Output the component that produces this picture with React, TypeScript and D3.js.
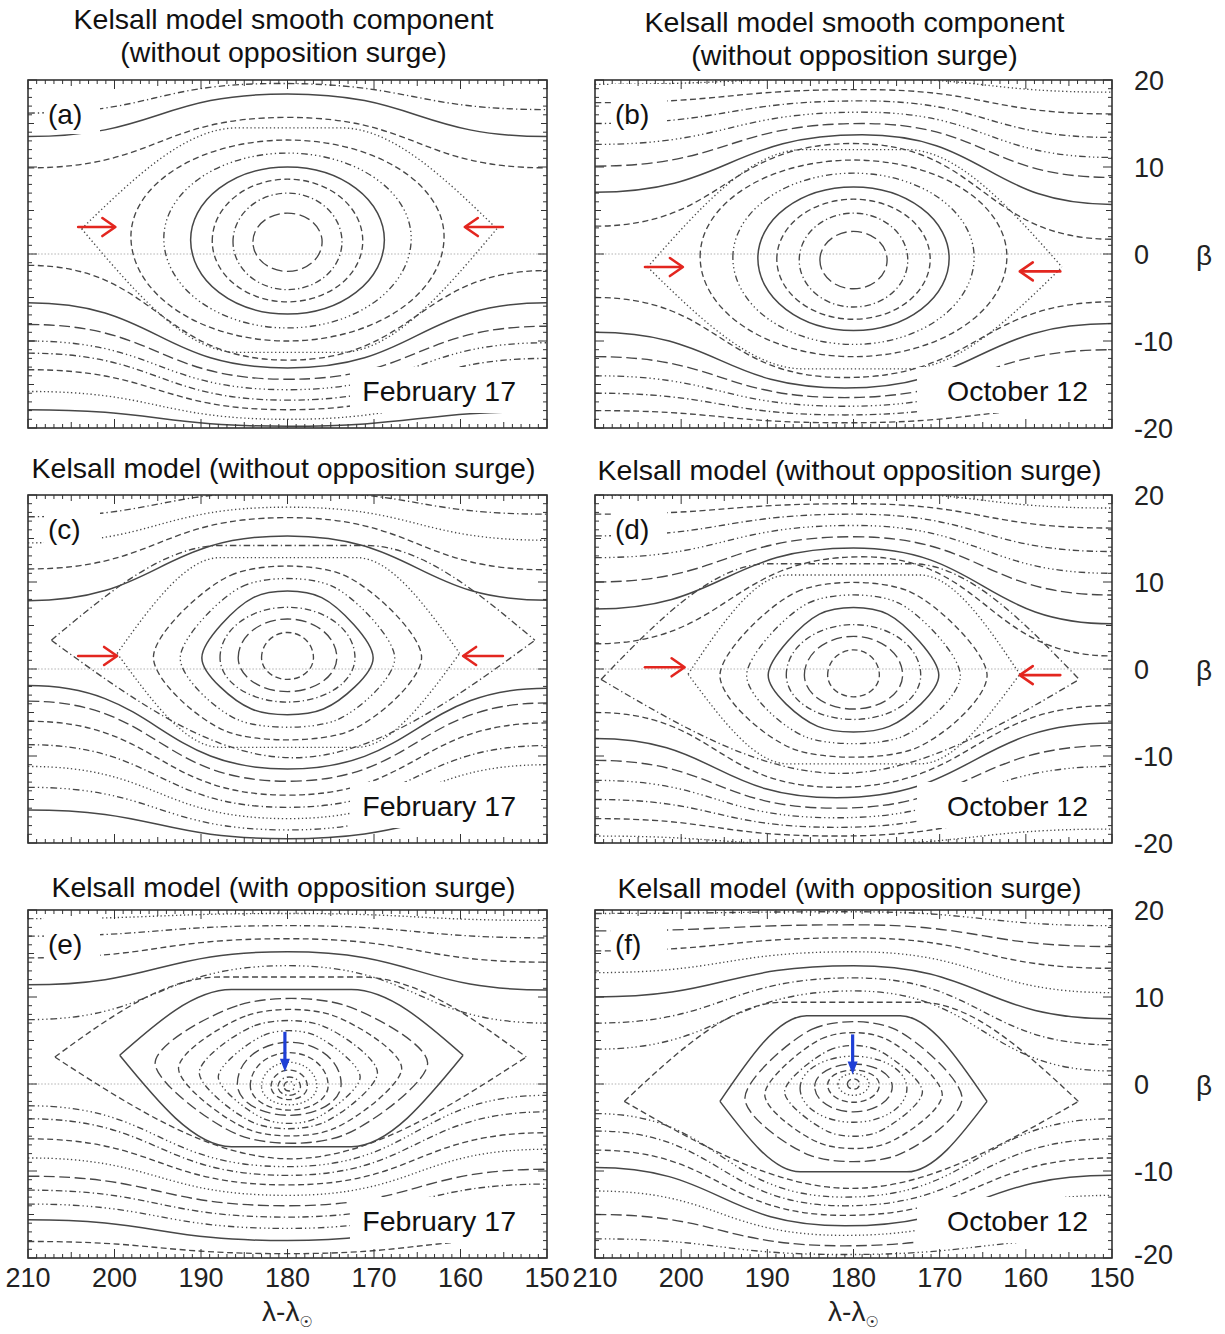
import React from 'react';
import * as d3 from 'd3';

// ---------- data ----------
// Oval: [lambdaLeft, lambdaRight, betaCentre, betaTop, betaBottom, level]
// Hex / Round (closed contour): [lambdaLeftTip, lambdaRightTip, betaTip, betaTop, betaBottom, topFlat, bottomFlat, level]
// Open line: [betaAt210, lambdaOfExtremum, betaAtExtremum, betaAt150, level]
// Arrow: [lambda0, beta0, lambda1, beta1]

const LAMBDA_TICKS = [210, 200, 190, 180, 170, 160, 150];
const BETA_TICKS = [20, 10, 0, -10, -20];

const PANEL_TAGS = ['(a)', '(b)', '(c)', '(d)', '(e)', '(f)'];
const PANEL_DATES = ['February 17', 'October 12', 'February 17', 'October 12', 'February 17', 'October 12'];
const ROW_TITLES = [
  ['Kelsall model smooth component', '(without opposition surge)'],
  ['Kelsall model (without opposition surge)'],
  ['Kelsall model (with opposition surge)'],
];

// (a)
const OVALS_A = [
  [184.0, 176.0, 1.4, 4.7, -2.0, 5],
  [186.3, 173.7, 1.4, 7.0, -4.1, 3],
  [188.7, 171.3, 1.5, 8.6, -5.5, 2],
  [191.2, 168.8, 1.6, 10.0, -6.9, 0],
  [194.3, 165.7, 1.8, 11.6, -8.5, 4],
  [198.1, 161.9, 2.0, 13.1, -10.0, 2],
];
const HEX_A = [[203.8, 155.8, 2.9, 14.5, -11.3, 0.25, 0.25, 1]];
const UPPER_A = [
  [9.9, 180, 15.7, 9.9, 2],
  [13.5, 180, 18.4, 13.5, 0],
  [16.2, 181, 19.6, 16.6, 3],
];
const LOWER_A = [
  [-1.3, 180, -12.2, -1.9, 2],
  [-5.6, 180, -13.1, -5.6, 0],
  [-8.1, 180, -14.4, -8.3, 5],
  [-10.0, 180, -15.6, -10.2, 4],
  [-11.4, 180, -16.8, -12.0, 3],
  [-13.3, 180, -17.9, -13.6, 2],
  [-15.8, 180, -19.0, -16.0, 1],
  [-17.9, 180, -19.8, -18.1, 0],
];
const RED_A = [[204.2, 3.1, 199.9, 3.1], [155.1, 3.1, 159.5, 3.1]];

// (b)
const OVALS_B = [
  [183.9, 176.1, -0.7, 2.6, -4.0, 5],
  [186.3, 173.7, -0.7, 4.7, -6.1, 3],
  [188.9, 171.1, -0.6, 6.3, -7.5, 2],
  [191.1, 168.9, -0.5, 7.7, -8.8, 0],
  [194.0, 166.0, -0.4, 9.3, -10.4, 4],
  [197.8, 162.2, -0.3, 10.8, -11.8, 2],
];
const HEX_B = [[203.9, 155.8, -1.5, 12.0, -13.2, 0.25, 0.25, 1]];
const UPPER_B = [
  [3.2, 180, 12.7, 1.7, 2],
  [7.1, 179, 13.7, 5.7, 0],
  [10.1, 179, 15.0, 8.8, 5],
  [12.6, 179, 16.3, 11.1, 4],
  [15.0, 179, 17.6, 13.4, 3],
  [17.4, 179, 18.9, 16.1, 2],
  [19.5, 179, 20.2, 18.6, 1],
];
const LOWER_B = [
  [-5.0, 181, -14.2, -5.5, 2],
  [-9.0, 181, -15.4, -8.0, 0],
  [-11.8, 181, -16.5, -11.0, 5],
  [-14.0, 181, -17.5, -13.3, 4],
  [-16.0, 181, -18.5, -15.5, 3],
  [-18.0, 181, -19.4, -17.6, 2],
];
const RED_B = [[204.2, -1.5, 199.8, -1.5], [156.0, -2.0, 160.7, -2.0]];

// (c)
const OVALS_C = [
  [183.0, 177.0, 1.3, 4.2, -1.2, 2],
  [185.7, 174.3, 1.3, 5.75, -2.6, 5],
  [187.8, 172.2, 1.3, 7.1, -3.8, 3],
];
const HEX_C = [
  [207.3, 151.4, 3.3, 14.2, -10.2, 0.3, 0.0, 3],
  [199.7, 160.1, 1.8, 12.8, -9.0, 0.4, 0.4, 1],
];
const ROUND_C = [
  [195.5, 164.5, 1.4, 10.8, -7.2, 0.42, 0.45, 2],
  [192.4, 167.6, 1.3, 9.5, -5.9, 0.42, 0.45, 4],
  [189.9, 170.1, 1.3, 8.2, -4.6, 0.4, 0.42, 0],
];
const UPPER_C = [
  [7.85, 180, 15.3, 7.9, 0],
  [11.5, 180, 17.4, 11.4, 2],
  [14.5, 180, 18.6, 14.8, 1],
  [17.5, 180, 20.4, 17.8, 3],
];
const LOWER_C = [
  [-1.9, 180, -11.5, -2.2, 0],
  [-3.7, 180, -12.9, -3.9, 5],
  [-6.0, 180, -14.5, -6.2, 2],
  [-8.7, 180, -15.9, -8.8, 3],
  [-11.2, 180, -17.2, -11.0, 1],
  [-13.6, 180, -18.5, -13.4, 4],
  [-16.2, 180, -19.5, -16.0, 0],
];
const RED_C = [[204.2, 1.5, 199.7, 1.5], [155.1, 1.5, 159.7, 1.5]];

// (d)
const OVALS_D = [
  [183.0, 177.0, -0.7, 2.2, -3.2, 2],
  [185.7, 174.3, -0.7, 3.75, -4.6, 5],
  [187.8, 172.2, -0.7, 5.1, -5.8, 3],
];
const HEX_D = [
  [209.3, 153.8, -1.2, 12.1, -12.0, 0.3, 0.0, 3],
  [199.2, 160.7, -0.6, 10.8, -10.9, 0.4, 0.4, 1],
];
const ROUND_D = [
  [195.5, 164.5, -0.7, 8.9, -9.2, 0.42, 0.45, 2],
  [192.4, 167.6, -0.7, 7.6, -7.8, 0.42, 0.45, 4],
  [189.9, 170.1, -0.7, 6.3, -6.6, 0.4, 0.42, 0],
];
const UPPER_D = [
  [2.9, 179, 12.9, 1.5, 2],
  [6.9, 180, 13.9, 5.2, 0],
  [10.0, 180, 15.2, 8.5, 5],
  [12.8, 180, 16.5, 11.0, 4],
  [15.3, 180, 17.8, 13.5, 3],
  [17.8, 180, 19.0, 16.2, 2],
  [20.0, 180, 20.3, 18.5, 1],
];
const LOWER_D = [
  [-5.0, 182, -13.6, -4.2, 2],
  [-8.0, 182, -14.8, -6.2, 0],
  [-10.5, 182, -16.0, -8.8, 5],
  [-12.8, 182, -17.1, -11.2, 4],
  [-15.0, 182, -18.2, -13.6, 3],
  [-17.2, 182, -19.2, -16.0, 2],
  [-19.2, 182, -20.2, -18.4, 1],
];
const RED_D = [[204.2, 0.2, 199.6, 0.2], [156.0, -0.7, 160.7, -0.7]];

// (e)
const OVALS_E = [
  [185.8, 173.8, 0.0, 4.8, -3.6, 5],
  [184.3, 175.3, -0.2, 3.6, -3.0, 2],
  [183.0, 176.6, -0.3, 2.5, -2.4, 1],
  [181.9, 177.7, -0.3, 1.6, -1.8, 2],
  [181.1, 178.5, -0.3, 0.8, -1.3, 3],
  [180.4, 179.2, -0.3, 0.3, -0.8, 4],
];
const HEX_E = [
  [206.9, 152.4, 3.1, 12.3, -8.6, 0.3, 0.0, 2],
  [199.4, 159.7, 3.3, 10.85, -7.2, 0.35, 0.35, 0],
];
const ROUND_E = [
  [195.3, 163.8, 2.4, 9.1, -5.9, 0.38, 0.38, 5],
  [192.6, 166.8, 1.8, 7.9, -5.2, 0.38, 0.38, 2],
  [190.2, 169.6, 1.3, 6.7, -4.5, 0.38, 0.38, 3],
  [188.0, 171.6, 0.8, 5.6, -4.0, 0.36, 0.36, 4],
];
const UPPER_E = [
  [7.4, 180, 13.6, 7.0, 4],
  [11.4, 180, 15.2, 10.8, 0],
  [14.5, 180, 16.7, 14.0, 2],
  [17.0, 180, 18.2, 16.8, 3],
  [19.0, 180, 19.6, 18.8, 1],
];
const LOWER_E = [
  [-2.5, 180, -9.5, -1.3, 4],
  [-4.0, 180, -10.5, -3.2, 3],
  [-6.3, 180, -11.6, -5.6, 2],
  [-8.5, 180, -12.8, -7.5, 1],
  [-10.6, 180, -14.0, -9.8, 5],
  [-12.2, 180, -15.3, -11.5, 3],
  [-13.8, 180, -16.6, -13.2, 4],
  [-15.6, 180, -18.0, -15.0, 0],
  [-18.1, 180, -19.5, -17.8, 2],
];
const BLUE_E = [[180.3, 6.0, 180.3, 1.4]];

// (f)
const OVALS_F = [
  [186.2, 173.8, -0.5, 3.2, -4.4, 4],
  [184.5, 175.5, -0.3, 2.3, -3.2, 5],
  [183.0, 177.0, -0.1, 1.6, -2.1, 2],
  [181.8, 178.2, 0.0, 1.2, -1.3, 1],
  [180.7, 179.3, 0.0, 0.6, -0.6, 2],
];
const HEX_F = [
  [206.6, 153.9, -2.0, 9.4, -12.0, 0.3, 0.0, 2],
  [195.5, 164.5, -2.0, 7.85, -10.1, 0.35, 0.4, 0],
];
const ROUND_F = [
  [192.6, 167.4, -1.6, 6.3, -8.2, 0.38, 0.4, 5],
  [190.3, 169.7, -1.2, 5.2, -6.8, 0.36, 0.38, 2],
  [188.0, 172.0, -0.9, 3.9, -5.5, 0.35, 0.36, 3],
];
const UPPER_F = [
  [4.0, 180, 10.7, 1.5, 4],
  [7.0, 180, 12.2, 4.5, 3],
  [10.0, 180, 13.6, 7.5, 0],
  [12.8, 180, 15.2, 10.5, 1],
  [15.3, 180, 16.8, 13.3, 2],
  [17.6, 180, 18.3, 15.8, 5],
  [19.6, 180, 19.8, 18.2, 4],
];
const LOWER_F = [
  [-3.4, 181, -13.0, -4.0, 4],
  [-5.4, 181, -14.0, -6.3, 3],
  [-7.6, 181, -15.1, -8.5, 2],
  [-9.6, 181, -16.3, -10.5, 0],
  [-12.3, 181, -17.4, -12.8, 1],
  [-15.0, 181, -18.6, -15.2, 5],
  [-17.8, 181, -19.6, -17.8, 4],
];
const BLUE_F = [[180.1, 5.7, 180.1, 1.1]];

const PANELS = [
  { ovals: OVALS_A, hexes: HEX_A, rounds: [], upper: UPPER_A, lower: LOWER_A, red: RED_A, blue: [] },
  { ovals: OVALS_B, hexes: HEX_B, rounds: [], upper: UPPER_B, lower: LOWER_B, red: RED_B, blue: [] },
  { ovals: OVALS_C, hexes: HEX_C, rounds: ROUND_C, upper: UPPER_C, lower: LOWER_C, red: RED_C, blue: [] },
  { ovals: OVALS_D, hexes: HEX_D, rounds: ROUND_D, upper: UPPER_D, lower: LOWER_D, red: RED_D, blue: [] },
  { ovals: OVALS_E, hexes: HEX_E, rounds: ROUND_E, upper: UPPER_E, lower: LOWER_E, red: [], blue: BLUE_E },
  { ovals: OVALS_F, hexes: HEX_F, rounds: ROUND_F, upper: UPPER_F, lower: LOWER_F, red: [], blue: BLUE_F },
];

// ---------- layout ----------
const W = 1225;
const H = 1334;
const COL_X = [28, 595];
const COL_W = [519, 517];
const ROW_Y = [80, 495, 910];
const PH = 348;
const FONT = '"Liberation Sans", Arial, Helvetica, sans-serif';
const INK = '#474747';
const DASHES = ['', '1.3 2.6', '6 3.5', '6.5 3 1.3 3', '6.5 3 1.3 3 1.3 3 1.3 3', '11 4.5'];
const dashOf = (lv: number) => DASHES[((lv % 6) + 6) % 6];

function Panel({ idx }: { idx: number }) {
  const col = idx % 2;
  const row = Math.floor(idx / 2);
  const x0 = COL_X[col];
  const w = COL_W[col];
  const y0 = ROW_Y[row];
  const data = PANELS[idx];
  const xs = d3.scaleLinear().domain([210, 150]).range([x0, x0 + w]);
  const ys = d3.scaleLinear().domain([20, -20]).range([y0, y0 + PH]);
  const lineMono = d3.line<number[]>().x((d) => xs(d[0])).y((d) => ys(d[1])).curve(d3.curveMonotoneX);
  const lineBump = d3.line<number[]>().x((d) => xs(d[0])).y((d) => ys(d[1])).curve(d3.curveBumpX);
  const lineRound = d3.line<number[]>().x((d) => xs(d[0])).y((d) => ys(d[1])).curve(d3.curveCardinalClosed.tension(0.12));

  const ovalPath = (o: number[]) => {
    const [lL, lR, bc, top, bot] = o;
    const xL = xs(lL), xR = xs(lR), yc = ys(bc);
    const rx = (xR - xL) / 2;
    const ryT = yc - ys(top);
    const ryB = ys(bot) - yc;
    return `M${xL},${yc}A${rx},${ryT} 0 0 1 ${xR},${yc}A${rx},${ryB} 0 0 1 ${xL},${yc}Z`;
  };
  const hexPath = (hx: number[]) => {
    const [lL, lR, bt, top, bot, wT, wB] = hx;
    const lc = (lL + lR) / 2;
    const hw = (lL - lR) / 2;
    const half = (b: number, wf: number) =>
      wf > 0
        ? [[lL, bt], [lc + wf * hw, b], [lc - wf * hw, b], [lR, bt]]
        : [[lL, bt], [lc, b], [lR, bt]];
    return (lineMono(half(top, wT)) || '') + (lineMono(half(bot, wB)) || '');
  };
  const roundPath = (hx: number[]) => {
    const [lL, lR, bt, top, bot, wT, wB] = hx;
    const lc = (lL + lR) / 2;
    const hw = (lL - lR) / 2;
    return (
      lineRound([
        [lL, bt],
        [lc + wT * hw, top],
        [lc - wT * hw, top],
        [lR, bt],
        [lc - wB * hw, bot],
        [lc + wB * hw, bot],
      ]) || ''
    );
  };
  const openPath = (o: number[]) => lineBump([[210, o[0]], [o[1], o[2]], [150, o[3]]]) || '';

  const clipId = `clip-${idx}`;
  const lamMinor = d3.range(150, 211, 1);
  const betMinor = d3.range(-20, 21, 1);
  const tickLen = (v: number) => (v % 10 === 0 ? 9 : v % 5 === 0 ? 6 : 4);

  const stroke = (lv: number) => ({
    fill: 'none',
    stroke: INK,
    strokeWidth: ((lv % 6) + 6) % 6 === 0 ? 1.5 : 1.35,
    strokeDasharray: dashOf(lv) || undefined,
  });

  return (
    <g>
      <defs>
        <clipPath id={clipId}>
          <rect x={x0} y={y0} width={w} height={PH} />
        </clipPath>
      </defs>
      <g clipPath={`url(#${clipId})`}>
        <line x1={x0} x2={x0 + w} y1={ys(0)} y2={ys(0)} stroke="#a8a8a8" strokeWidth={0.9} strokeDasharray="1.5 1.8" />
        {data.upper.map((o, i) => <path key={`u${i}`} d={openPath(o)} {...stroke(o[4])} />)}
        {data.lower.map((o, i) => <path key={`l${i}`} d={openPath(o)} {...stroke(o[4])} />)}
        {data.hexes.map((o, i) => <path key={`h${i}`} d={hexPath(o)} {...stroke(o[7])} />)}
        {data.rounds.map((o, i) => <path key={`r${i}`} d={roundPath(o)} {...stroke(o[7])} />)}
        {data.ovals.map((o, i) => <path key={`o${i}`} d={ovalPath(o)} {...stroke(o[5])} />)}
        {/* label boxes */}
        <rect x={x0 + 16} y={y0 + 4} width={56} height={50} fill="#fff" />
        <rect x={x0 + 322} y={y0 + 287} width={w - 322} height={46} fill="#fff" />
      </g>
      <text x={x0 + 20} y={y0 + 44} fontFamily={FONT} fontSize={28} fill="#111">{PANEL_TAGS[idx]}</text>
      <text x={x0 + (col === 0 ? 488 : 493)} y={y0 + 321} textAnchor="end" fontFamily={FONT} fontSize={28.5} fill="#111">
        {PANEL_DATES[idx]}
      </text>
      {data.red.map((a, i) => {
        const X0 = xs(a[0]), Y0 = ys(a[1]), X1 = xs(a[2]), Y1 = ys(a[3]);
        const dx = X1 - X0, dy = Y1 - Y0, L = Math.hypot(dx, dy);
        const ux = dx / L, uy = dy / L;
        const hl = 13, hwid = 9;
        const p1 = [X1 - ux * hl - uy * hwid, Y1 - uy * hl + ux * hwid];
        const p2 = [X1 - ux * hl + uy * hwid, Y1 - uy * hl - ux * hwid];
        return (
          <g key={`r${i}`} stroke="#e3261f" strokeWidth={2.6} fill="none" strokeLinecap="round" strokeLinejoin="round">
            <line x1={X0} y1={Y0} x2={X1 - ux * 1} y2={Y1} />
            <polyline points={`${p1[0]},${p1[1]} ${X1},${Y1} ${p2[0]},${p2[1]}`} />
          </g>
        );
      })}
      {data.blue.map((a, i) => {
        const X0 = xs(a[0]), Y0 = ys(a[1]), X1 = xs(a[2]), Y1 = ys(a[3]);
        return (
          <g key={`b${i}`}>
            <line x1={X0} y1={Y0} x2={X1} y2={Y1 - 9} stroke="#1f3fd6" strokeWidth={3.2} />
            <path d={`M${X1 - 5},${Y1 - 13}L${X1 + 5},${Y1 - 13}L${X1},${Y1}Z`} fill="#1f3fd6" />
          </g>
        );
      })}
      {/* frame and ticks */}
      <rect x={x0} y={y0} width={w} height={PH} fill="none" stroke="#333" strokeWidth={1.6} />
      <g stroke="#333" strokeWidth={1}>
        {lamMinor.map((v) => (
          <g key={`tx${v}`}>
            <line x1={xs(v)} x2={xs(v)} y1={y0 + PH} y2={y0 + PH - tickLen(v)} />
            <line x1={xs(v)} x2={xs(v)} y1={y0} y2={y0 + tickLen(v)} />
          </g>
        ))}
        {betMinor.map((v) => (
          <g key={`ty${v}`}>
            <line x1={x0} x2={x0 + tickLen(v)} y1={ys(v)} y2={ys(v)} />
            <line x1={x0 + w} x2={x0 + w - tickLen(v)} y1={ys(v)} y2={ys(v)} />
          </g>
        ))}
      </g>
      {row === 2 &&
        LAMBDA_TICKS.map((v) => (
          <text key={`lx${v}`} x={xs(v)} y={y0 + PH + 29} textAnchor="middle" fontFamily={FONT} fontSize={27} fill="#222">
            {v}
          </text>
        ))}
      {row === 2 && (
        <text x={x0 + w / 2} y={y0 + PH + 63} textAnchor="middle" fontFamily={FONT} fontSize={28} fill="#222">
          λ-λ
          <tspan fontSize={15} dy={6} fontFamily='"DejaVu Sans", sans-serif'>☉</tspan>
        </text>
      )}
      {col === 1 &&
        BETA_TICKS.map((v) => (
          <text key={`ly${v}`} x={1134} y={ys(v) + (row === 2 && v === -20 ? 6 : 10)} fontFamily={FONT} fontSize={27} fill="#222">
            {v}
          </text>
        ))}
      {col === 1 && (
        <text x={1196} y={ys(0) + 11} fontFamily={FONT} fontSize={28} fill="#222">β</text>
      )}
    </g>
  );
}

const TITLE_BASE = [[29, 62], [478], [897]];
const TITLE_SHIFT = [[0, 3], [0, 2], [0, 1]];

export default function App() {
  return (
    <svg width={W} height={H} viewBox={`0 0 ${W} ${H}`} style={{ position: 'absolute', left: 0, top: 0, background: '#fff' }}>
      <rect x={0} y={0} width={W} height={H} fill="#fff" />
      {ROW_TITLES.map((lines, r) =>
        [0, 1].map((c) =>
          lines.map((t, k) => (
            <text
              key={`t${r}${c}${k}`}
              x={COL_X[c] + COL_W[c] / 2 - 4 + (r === 0 && c === 1 ? 5 : 0)}
              y={TITLE_BASE[r][k] + TITLE_SHIFT[r][c]}
              textAnchor="middle"
              fontFamily={FONT}
              fontSize={28.5}
              fill="#111"
            >
              {t}
            </text>
          ))
        )
      )}
      {PANELS.map((_, i) => <Panel key={i} idx={i} />)}
    </svg>
  );
}
